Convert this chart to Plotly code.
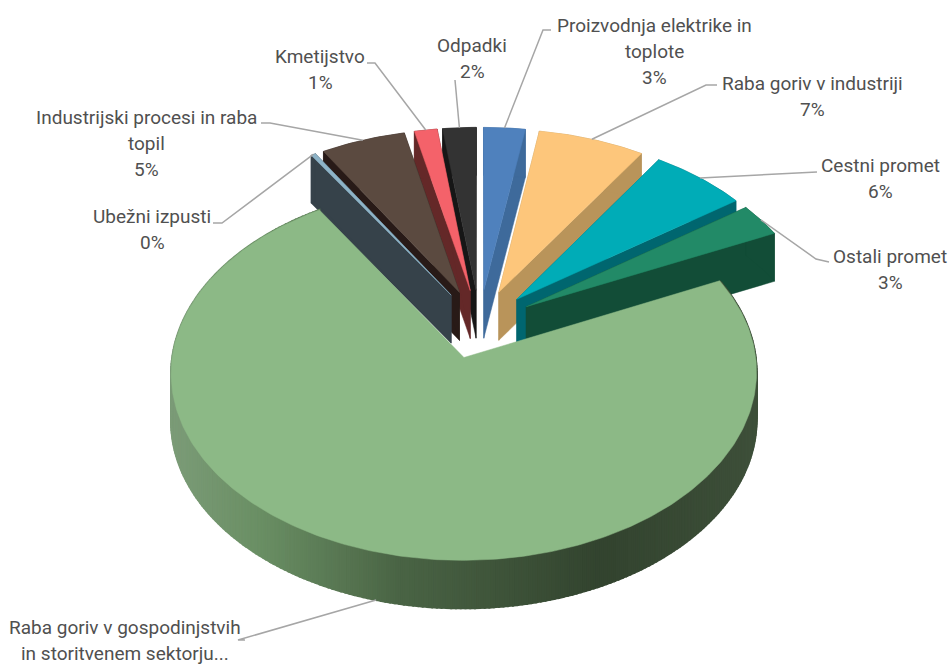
import math
import plotly.graph_objects as go

categories = ["Proizvodnja elektrike in<br>toplote", "Raba goriv v industriji", "Cestni promet", "Ostali promet",
              "Raba goriv v gospodinjstvih<br>in storitvenem sektorju...", "Ubežni izpusti",
              "Industrijski procesi in raba<br>topil", "Kmetijstvo", "Odpadki"]
values = [2.55, 6.55, 6.0, 2.9, 73.05, 0.3, 5.2, 1.4, 2.05]
show_percent = [True, True, True, True, False, True, True, True, True]
top_colors = ["#4f81bd", "#fdc67b", "#00acb7", "#228a67", "#8cb986", "#8db3c7", "#5b4a40", "#f4626a", "#333333"]
wall_colors = ["#3e6a9b", "#b9945a", "#00666f", "#124d37", "#4a6445", "#36424a", "#281a17", "#642828", "#161616"]
label_anchor = [(654, 51), (812, 96), (880, 178), (890, 269), (125, 640), (152, 229), (146, 143), (320, 69), (472, 58)]
label_elbow = [[(551, 30), (543, 30)], [(717, 85), (706, 85)], [(817, 172)], [(829, 262), (816, 259)],
               [(245, 640), (238, 640)], [(213, 223), (222, 223)], [(261, 123), (270, 123)],
               [(367, 63), (375, 63)], [(455, 80)]]

CX, CY, R, RQ, P, E, DEPTH = 479.5, 324, 287.5, 181, 0.08, 0.19, 48
TEXT = "#505050"
FONT = "Roboto"
FONT_SIZE = 19
LINE_GAP = 26
WALL_STOPS = [(170, (124, 156, 120)), (260, (106, 143, 100)), (400, (74, 100, 69)),
              (600, (51, 68, 47)), (757, (62, 80, 58))]


def proj(x, y):
    k = 1 / (1 + P * y)
    return CX + R * x * k, CY - RQ * y * k


def wall_color(sx):
    for (a, ca), (b, cb) in zip(WALL_STOPS, WALL_STOPS[1:]):
        if sx <= b:
            t = max(0, (sx - a) / (b - a))
            return "rgb(%d,%d,%d)" % tuple(ca[i] + (cb[i] - ca[i]) * t for i in range(3))
    return "rgb(%d,%d,%d)" % WALL_STOPS[-1][1]


def slice_points(start, end):
    mid = (start + end) / 2
    ox, oy = E * math.sin(mid), E * math.cos(mid)
    n = max(2, int((end - start) / 0.015))
    apex = proj(ox, oy)
    arc = []
    for i in range(n + 1):
        a = start + (end - start) * i / n
        arc.append(proj(ox + math.sin(a), oy + math.cos(a)))
    mid_pt = proj(ox + math.sin(mid), oy + math.cos(mid))
    return apex, arc, mid_pt


def poly(fig, pts, color, lw=0.5):
    fig.add_trace(go.Scatter(x=[p[0] for p in pts], y=[p[1] for p in pts], mode="lines", fill="toself",
                             fillcolor=color, line=dict(color=color, width=lw), hoverinfo="skip", showlegend=False))


def quad(a, b):
    return [a, b, (b[0], b[1] + DEPTH), (a[0], a[1] + DEPTH), a]


fig = go.Figure()
total = sum(values)
angles = []
acc = 0
for v in values:
    angles.append((acc / total * 2 * math.pi, (acc + v) / total * 2 * math.pi))
    acc += v


def top_distance(i):
    mid = sum(angles[i]) / 2
    return min(mid, 2 * math.pi - mid)


order = sorted(range(len(values)), key=top_distance)
geom = {}
for i in order:
    apex, arc, mid_pt = slice_points(*angles[i])
    geom[i] = (apex, arc, mid_pt)
    if values[i] > 50:
        for a, b in zip(arc, arc[1:]):
            poly(fig, quad(a, b), wall_color((a[0] + b[0]) / 2), lw=2)
    else:
        poly(fig, quad(apex, arc[0]), wall_colors[i])
        poly(fig, quad(apex, arc[-1]), wall_colors[i])
        band = arc + [(p[0], p[1] + DEPTH) for p in reversed(arc)] + [arc[0]]
        poly(fig, band, wall_colors[i])
    poly(fig, [apex] + arc + [apex], top_colors[i])

annotations = []
for i, name in enumerate(categories):
    apex, arc, mid_pt = geom[i]
    if values[i] > 50:
        # leader reaches the lower rim of the large slice
        lead = next(p for p in arc if p[0] < 380 and p[1] > 500)
        end = (lead[0], lead[1] + DEPTH)
    else:
        end = mid_pt
    pts = label_elbow[i] + [end]
    fig.add_trace(go.Scatter(x=[p[0] for p in pts], y=[p[1] for p in pts], mode="lines",
                             line=dict(color="#a6a6a6", width=1.5), hoverinfo="skip", showlegend=False))
    lines = name.split("<br>") + (["%d%%" % round(values[i])] if show_percent[i] else [])
    for j, line in enumerate(lines):
        annotations.append(dict(x=label_anchor[i][0], y=label_anchor[i][1] + (j - (len(lines) - 1) / 2) * LINE_GAP,
                                xref="x", yref="y", text=line, showarrow=False, align="center",
                                xanchor="center", yanchor="middle",
                                font=dict(family=FONT, size=FONT_SIZE, color=TEXT)))

fig.update_layout(width=952, height=664, margin=dict(l=0, r=0, t=0, b=0), paper_bgcolor="white",
                  plot_bgcolor="white", showlegend=False, annotations=annotations,
                  xaxis=dict(range=[0, 952], visible=False, fixedrange=True),
                  yaxis=dict(range=[664, 0], visible=False, fixedrange=True))
fig.write_html("out.html", config={"displayModeBar": False},
               post_script="document.body.style.margin='0';document.documentElement.style.overflow='hidden';")
